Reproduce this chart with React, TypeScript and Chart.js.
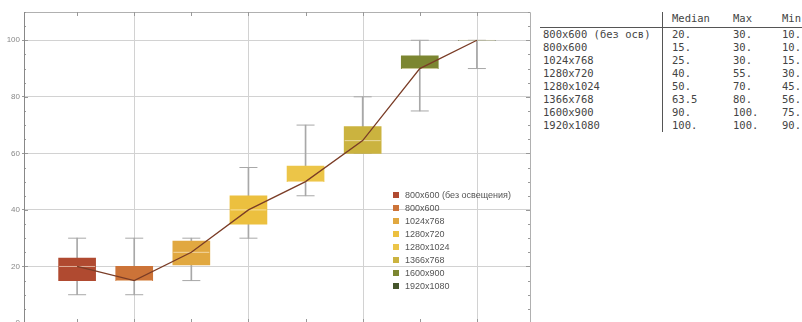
import React, { useEffect, useRef } from "react";
import { Chart, registerables } from "chart.js";

Chart.register(...registerables);

const categories = [
  "800x600 (без освещения)",
  "800x600",
  "1024x768",
  "1280x720",
  "1280x1024",
  "1366x768",
  "1600x900",
  "1920x1080",
];
const boxColors = ["#b04a30", "#cc7338", "#e1a840", "#ecc03f", "#ecc548", "#cbb33f", "#7c8631", "#45552c"];
const whiskerMin = [10, 10, 15, 30, 45, 60, 75, 90];
const q1 = [15, 15, 20.5, 35, 50, 60, 90, 100];
const medians = [20, 15, 25, 40, 50, 64.5, 90, 100];
const q3 = [23, 20, 29, 45, 55.5, 69.5, 94.5, 100];
const whiskerMax = [30, 30, 30, 55, 70, 80, 100, 100];
const yTickLabels = [0, 20, 40, 60, 80, 100];

const tableHeader = ["Median", "Max", "Min"];
const tableRows = [
  "800x600 (без осв)",
  "800x600",
  "1024x768",
  "1280x720",
  "1280x1024",
  "1366x768",
  "1600x900",
  "1920x1080",
];
const tableMedian = ["20.", "15.", "25.", "40.", "50.", "63.5", "90.", "100."];
const tableMax = ["30.", "30.", "30.", "55.", "70.", "80.", "100.", "100."];
const tableMin = ["10.", "10.", "15.", "30.", "45.", "56.", "75.", "90."];

const framePlugin = {
  id: "frame",
  beforeDatasetsDraw(chart: any) {
    const { ctx, chartArea } = chart;
    const { top, bottom } = chartArea;
    const xs = chart.scales.x;
    ctx.save();
    ctx.lineWidth = 1;
    ctx.strokeStyle = "#d2d2d2";
    ctx.beginPath();
    for (let i = 1; i < categories.length; i += 2) {
      const x = Math.round(xs.getPixelForValue(i)) + 0.5;
      ctx.moveTo(x, top);
      ctx.lineTo(x, bottom);
    }
    ctx.stroke();
    ctx.restore();
  },
  afterDraw(chart: any) {
    const { ctx, chartArea } = chart;
    const { left, right, top, bottom } = chartArea;
    const xs = chart.scales.x;
    const ys = chart.scales.y;
    ctx.save();
    ctx.lineWidth = 1;
    ctx.strokeStyle = "#b0b0b0";
    ctx.beginPath();
    ctx.moveTo(left, top + 0.5);
    ctx.lineTo(right + 0.5, top + 0.5);
    ctx.lineTo(right + 0.5, bottom);
    ctx.stroke();
    ctx.strokeStyle = "#999";
    ctx.beginPath();
    for (let i = 0; i < categories.length; i++) {
      const x = Math.round(xs.getPixelForValue(i)) + 0.5;
      ctx.moveTo(x, top);
      ctx.lineTo(x, top + 4);
      ctx.moveTo(x, bottom);
      ctx.lineTo(x, bottom - 4);
    }
    for (let v = 5; v <= 110; v += 5) {
      const y = Math.round(ys.getPixelForValue(v)) + 0.5;
      const len = v % 20 === 0 ? 4 : 2;
      ctx.moveTo(right, y);
      ctx.lineTo(right - len, y);
      ctx.moveTo(left, y);
      ctx.lineTo(left + len, y);
    }
    ctx.stroke();
    ctx.strokeStyle = "#888";
    ctx.beginPath();
    ctx.moveTo(left + 0.5, top);
    ctx.lineTo(left + 0.5, bottom);
    ctx.stroke();
    ctx.restore();
  },
};

function BoxChart() {
  const ref = useRef<HTMLCanvasElement>(null);
  useEffect(() => {
    if (!ref.current) return;
    const idx = categories.map((_, i) => i);
    const chart = new Chart(ref.current, {
      type: "bar",
      data: {
        datasets: [
          {
            type: "bar",
            data: idx.map((i) => ({ x: i, y: [whiskerMin[i], whiskerMax[i]] })) as any,
            backgroundColor: "#a8a8a8",
            barThickness: 1,
            grouped: false,
            order: 5,
          } as any,
          {
            type: "scatter",
            data: idx.flatMap((i) => [
              { x: i, y: whiskerMin[i] },
              { x: i, y: whiskerMax[i] },
            ]),
            pointStyle: "line",
            pointRadius: 9,
            borderColor: "#a8a8a8",
            borderWidth: 1,
            order: 4,
          } as any,
          {
            type: "bar",
            data: idx.map((i) => ({ x: i, y: [q1[i], q3[i]] })) as any,
            backgroundColor: boxColors,
            barThickness: 37,
            grouped: false,
            order: 3,
          } as any,
          {
            type: "scatter",
            data: idx.map((i) => ({ x: i, y: medians[i] })),
            pointStyle: "line",
            pointRadius: 18,
            borderColor: "rgba(255,245,225,0.6)",
            borderWidth: 1,
            order: 2,
          } as any,
          {
            type: "line",
            data: idx.map((i) => ({ x: i, y: medians[i] })),
            borderColor: "#7a3c26",
            borderWidth: 1.3,
            pointRadius: 0,
            tension: 0,
            order: 1,
          } as any,
        ],
      },
      options: {
        animation: false,
        responsive: false,
        events: [],
        layout: { autoPadding: false, padding: { top: 12, right: 10, bottom: 7, left: 0 } },
        plugins: { legend: { display: false }, tooltip: { enabled: false } },
        scales: {
          x: {
            type: "linear",
            min: -0.93,
            max: 7.93,
            offset: false,
            afterBuildTicks: (s: any) => {
              s.ticks = categories.map((_, i) => ({ value: i }));
            },
            ticks: { display: false },
            border: { display: false },
            grid: { display: false, offset: false, drawTicks: false },
            afterFit: (s: any) => {
              s.height = 0;
              s.paddingLeft = 0;
              s.paddingRight = 0;
              s.paddingTop = 0;
              s.paddingBottom = 0;
            },
          },
          y: {
            type: "linear",
            min: 0,
            max: 110,
            afterBuildTicks: (s: any) => {
              s.ticks = yTickLabels.map((v) => ({ value: v }));
            },
            ticks: {
              font: { family: "Liberation Sans", size: 8 },
              color: "#888",
              padding: 2,
            },
            border: { display: false },
            grid: {
              tickLength: 2,
              tickColor: "#999",
              color: (c: any) => (c.tick && c.tick.value > 0 ? "#d2d2d2" : "transparent"),
            },
            afterFit: (s: any) => {
              s.width = 24;
              s.paddingTop = 0;
              s.paddingBottom = 0;
              s.paddingLeft = 0;
              s.paddingRight = 0;
            },
          },
        },
      },
      plugins: [framePlugin],
    } as any);
    return () => chart.destroy();
  }, []);
  return <canvas ref={ref} width={540} height={330} style={{ position: "absolute", left: 0, top: 0 }} />;
}

export default function App() {
  const mono = { fontFamily: "'DejaVu Sans Mono', monospace", fontSize: 10.5, color: "#444", lineHeight: "13px" } as const;
  const rowTop = (k: number) => 28 + k * 13;
  const cols = [672, 733, 782];
  return (
    <div style={{ position: "fixed", left: 0, top: 0, width: 802, height: 322, overflow: "hidden", background: "#fff" }}>
      <BoxChart />
      <div style={{ position: "absolute", left: 0, top: 0 }}>
        {categories.map((c, i) => (
          <div key={c} style={{ position: "absolute", left: 393, top: 188 + i * 13, height: 13, display: "flex", alignItems: "center", whiteSpace: "nowrap" }}>
            <span style={{ width: 6, height: 6, background: boxColors[i], display: "inline-block" }} />
            <span style={{ marginLeft: 6, fontFamily: "'Liberation Sans', Arial, sans-serif", fontSize: 9, color: "#555" }}>{c}</span>
          </div>
        ))}
      </div>
      <div style={{ position: "absolute", left: 540, top: 26.5, width: 262, height: 1, background: "#555" }} />
      <div style={{ position: "absolute", left: 661.5, top: 12, width: 1, height: 120, background: "#555" }} />
      {tableHeader.map((h, j) => (
        <div key={h} style={{ ...mono, position: "absolute", left: cols[j], top: 12, whiteSpace: "pre" }}>{h}</div>
      ))}
      {tableRows.map((r, k) => (
        <React.Fragment key={r}>
          <div style={{ ...mono, position: "absolute", left: 543, top: rowTop(k), whiteSpace: "pre" }}>{r}</div>
          <div style={{ ...mono, position: "absolute", left: cols[0], top: rowTop(k), whiteSpace: "pre" }}>{tableMedian[k]}</div>
          <div style={{ ...mono, position: "absolute", left: cols[1], top: rowTop(k), whiteSpace: "pre" }}>{tableMax[k]}</div>
          <div style={{ ...mono, position: "absolute", left: cols[2], top: rowTop(k), whiteSpace: "pre" }}>{tableMin[k]}</div>
        </React.Fragment>
      ))}
    </div>
  );
}
